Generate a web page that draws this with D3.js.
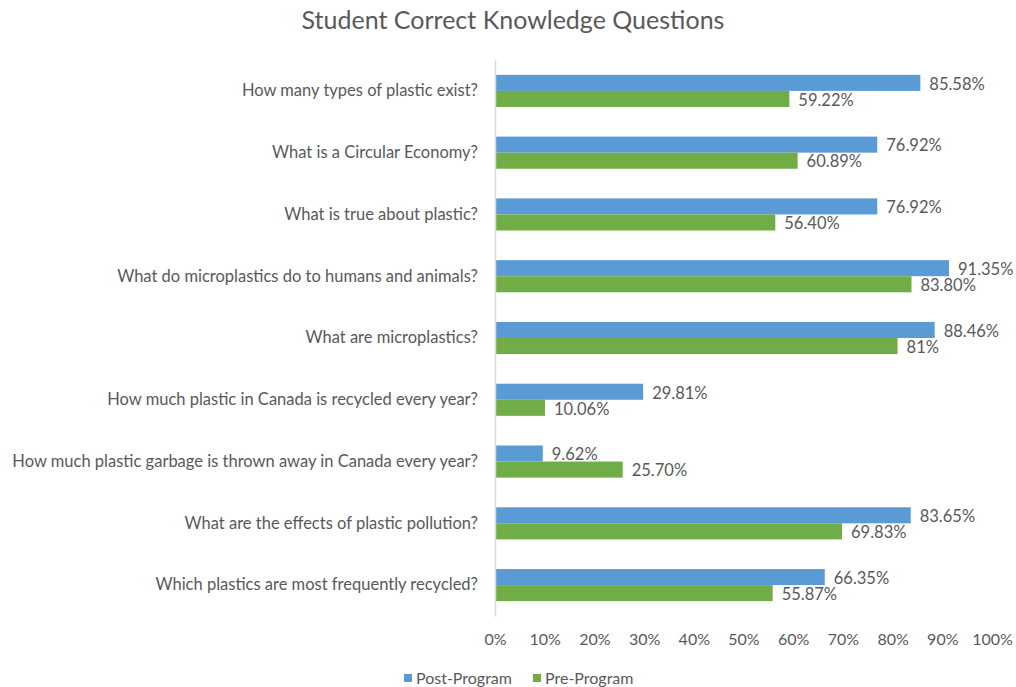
<!DOCTYPE html>
<html>
<head>
<meta charset="utf-8">
<script src="https://cdn.jsdelivr.net/npm/d3@7"></script>
<style>
  html, body { margin: 0; padding: 0; background: #fff; }
  svg { display: block; font-family: Lato, "Open Sans", sans-serif; }
</style>
</head>
<body>
<svg id="chart" width="1016" height="687"></svg>
<script>
// Survey questions, listed top to bottom
const questions = [
  "How many types of plastic exist?",
  "What is a Circular Economy?",
  "What is true about plastic?",
  "What do microplastics do to humans and animals?",
  "What are microplastics?",
  "How much plastic in Canada is recycled every year?",
  "How much plastic garbage is thrown away in Canada every year?",
  "What are the effects of plastic pollution?",
  "Which plastics are most frequently recycled?"
];
// Share of students answering correctly (%)
const postProgram = [85.58, 76.92, 76.92, 91.35, 88.46, 29.81, 9.62, 83.65, 66.35];
const preProgram  = [59.22, 60.89, 56.40, 83.80, 81, 10.06, 25.70, 69.83, 55.87];
const postLabels = ["85.58%", "76.92%", "76.92%", "91.35%", "88.46%", "29.81%", "9.62%", "83.65%", "66.35%"];
const preLabels  = ["59.22%", "60.89%", "56.40%", "83.80%", "81%", "10.06%", "25.70%", "69.83%", "55.87%"];
const seriesNames = ["Post-Program", "Pre-Program"];
const xTicks = [0, 10, 20, 30, 40, 50, 60, 70, 80, 90, 100];

const colors = { "Post-Program": "#5B9BD5", "Pre-Program": "#70AD47" };
const textColor = "#595959";

const svg = d3.select("#chart");
const margin = { left: 495, right: 24, top: 60, bottom: 71 };
const W = 1016, H = 687;

const x = d3.scaleLinear().domain([0, 100]).range([margin.left, W - margin.right]);
const y = d3.scaleBand().domain(questions).range([margin.top, H - margin.bottom]).paddingInner(0.48).paddingOuter(0.24);
const ySub = d3.scaleBand().domain(seriesNames).range([0, y.bandwidth()]);

const rows = questions.map((q, i) => ({
  q,
  vals: [
    { s: "Post-Program", v: postProgram[i], label: postLabels[i] },
    { s: "Pre-Program", v: preProgram[i], label: preLabels[i] }
  ]
}));

// Title
svg.append("text")
  .attr("x", 513).attr("y", 20)
  .attr("dy", "0.35em")
  .attr("text-anchor", "middle")
  .attr("fill", textColor)
  .style("font-size", "25px")
  .text("Student Correct Knowledge Questions");

// Bars
const g = svg.append("g");
const groups = g.selectAll("g.row").data(rows).join("g")
  .attr("class", "row")
  .attr("transform", d => `translate(0,${y(d.q)})`);

groups.selectAll("rect").data(d => d.vals).join("rect")
  .attr("x", x(0))
  .attr("y", d => ySub(d.s))
  .attr("width", d => x(d.v) - x(0))
  .attr("height", ySub.bandwidth())
  .attr("fill", d => colors[d.s]);

groups.selectAll("text.val").data(d => d.vals).join("text")
  .attr("class", "val")
  .attr("x", d => x(d.v) + 9)
  .attr("y", d => ySub(d.s) + ySub.bandwidth() / 2 + 1)
  .attr("dy", "0.35em")
  .attr("fill", textColor)
  .style("font-size", "16.5px")
  .text(d => d.label);

// Category axis
const yAxis = svg.append("g")
  .attr("transform", `translate(${x(0)},0)`)
  .call(d3.axisLeft(y).tickSize(0).tickPadding(17));
yAxis.select(".domain").attr("stroke", "#D9D9D9").attr("stroke-width", 1.5);
yAxis.selectAll("text").attr("fill", textColor).style("font-size", "16.5px")
  .style("font-family", "Lato, 'Open Sans', sans-serif");

// Value axis (labels only)
const xAxis = svg.append("g")
  .attr("transform", `translate(0,${H - margin.bottom + 12})`)
  .call(d3.axisBottom(x).tickValues(xTicks).tickFormat(d => d + "%").tickSize(0).tickPadding(6));
xAxis.select(".domain").remove();
xAxis.selectAll("text").attr("fill", textColor).style("font-size", "16px")
  .style("font-family", "Lato, 'Open Sans', sans-serif");

// Legend
const legend = svg.append("g").attr("transform", "translate(404,678)");
const legendX = [0, 129];
seriesNames.forEach((s, i) => {
  const lg = legend.append("g").attr("transform", `translate(${legendX[i]},0)`);
  lg.append("rect").attr("x", 0).attr("y", -4).attr("width", 8).attr("height", 8).attr("fill", colors[s]);
  lg.append("text").attr("x", 12).attr("y", 0).attr("dy", "0.35em")
    .attr("fill", textColor).style("font-size", "16px").text(s);
});
</script>
</body>
</html>
